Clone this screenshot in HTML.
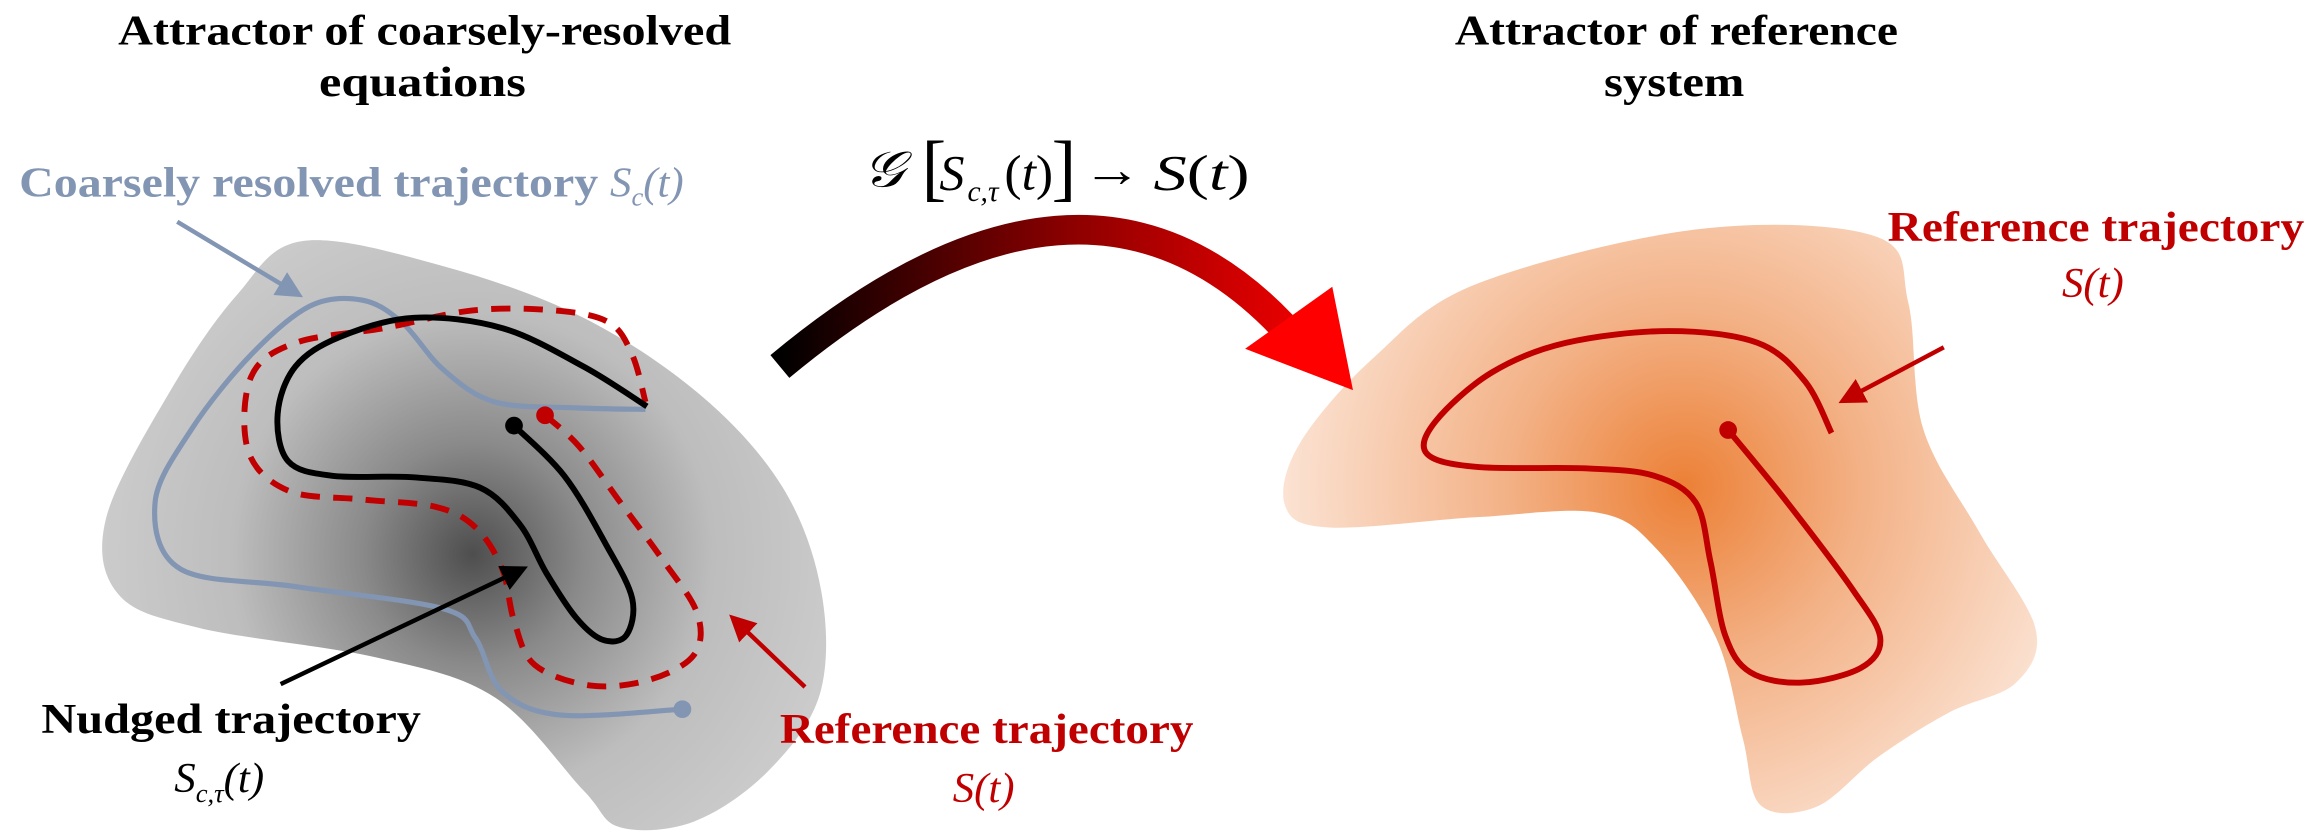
<!DOCTYPE html>
<html><head><meta charset="utf-8"><style>
html,body{margin:0;padding:0;background:#fff;}
svg{display:block;}
.t{font-family:"Liberation Serif",serif;font-weight:bold;}
.m{font-family:"Liberation Serif",serif;font-style:italic;}
</style></head><body>
<svg id="s" width="2316" height="832" viewBox="0 0 1568 563" xmlns="http://www.w3.org/2000/svg">
<defs>
<radialGradient id="gg" cx="320" cy="375" r="250" gradientUnits="userSpaceOnUse">
<stop offset="0" stop-color="#4e4e4e"/><stop offset="0.3" stop-color="#8a8a8a"/><stop offset="0.65" stop-color="#bdbdbd"/><stop offset="1" stop-color="#cbcbcb"/></radialGradient>
<radialGradient id="og" cx="1140" cy="330" r="270" gradientUnits="userSpaceOnUse">
<stop offset="0" stop-color="#ec8036"/><stop offset="0.45" stop-color="#f3b287"/><stop offset="1" stop-color="#fbe2d2"/></radialGradient>
<linearGradient id="ag" x1="528" y1="0" x2="915" y2="0" gradientUnits="userSpaceOnUse">
<stop offset="0" stop-color="#000"/><stop offset="0.5" stop-color="#8a0000"/><stop offset="1" stop-color="#ff0000"/></linearGradient>
<marker id="mb" markerWidth="6" markerHeight="6" refX="4" refY="3" orient="auto"><path d="M0,0 L6,3 L0,6 Z" fill="#8295b3"/></marker>
<marker id="mk" markerWidth="6" markerHeight="6" refX="4" refY="3" orient="auto"><path d="M0,0 L6,3 L0,6 Z" fill="#000"/></marker>
<marker id="mr" markerWidth="6" markerHeight="6" refX="4" refY="3" orient="auto"><path d="M0,0 L6,3 L0,6 Z" fill="#c00000"/></marker>
</defs>

<text class="t" x="80" y="30" font-size="29" textLength="415" lengthAdjust="spacingAndGlyphs">Attractor of coarsely-resolved</text>
<text class="t" x="216" y="65" font-size="29" textLength="140" lengthAdjust="spacingAndGlyphs">equations</text>
<text class="t" x="985" y="30" font-size="29" textLength="300" lengthAdjust="spacingAndGlyphs">Attractor of reference</text>
<text class="t" x="1086" y="65" font-size="29" textLength="95" lengthAdjust="spacingAndGlyphs">system</text>

<path id="grayblob" fill="url(#gg)"/>
<path id="orangeblob" fill="url(#og)"/>

<path id="blue" fill="none" stroke="#8295b3" stroke-width="3.5"/>
<circle cx="462" cy="480" r="6" fill="#8295b3"/>
<path id="reddash" fill="none" stroke="#c00000" stroke-width="4" stroke-dasharray="13,9"/>
<path id="black" fill="none" stroke="#000" stroke-width="4"/>
<circle cx="348" cy="288" r="6" fill="#000"/>
<circle cx="369" cy="281" r="6" fill="#c00000"/>

<line x1="120" y1="150" x2="200" y2="198" stroke="#8295b3" stroke-width="3" marker-end="url(#mb)"/>
<line x1="190" y1="463" x2="352" y2="386" stroke="#000" stroke-width="3" marker-end="url(#mk)"/>
<line x1="545" y1="465" x2="498" y2="420" stroke="#c00000" stroke-width="3" marker-end="url(#mr)"/>

<g fill="#8295b3">
<text class="t" x="13" y="133" font-size="29" textLength="392" lengthAdjust="spacingAndGlyphs">Coarsely resolved trajectory</text>
<text class="m" x="413" y="133" font-size="29">S<tspan font-size="18" dy="6">c</tspan><tspan dy="-6">(t)</tspan></text>
</g>
<text class="t" x="28" y="496" font-size="29" textLength="257" lengthAdjust="spacingAndGlyphs">Nudged trajectory</text>
<text class="m" x="118" y="536" font-size="29">S<tspan font-size="18" dy="7">c,τ</tspan><tspan dy="-7">(t)</tspan></text>
<text class="t" x="528" y="503" font-size="29" fill="#c00000" textLength="280" lengthAdjust="spacingAndGlyphs">Reference trajectory</text>
<text class="m" x="645" y="543" font-size="29" fill="#c00000">S(t)</text>

<g>
<text class="m" x="584" y="126" font-size="34" textLength="28" lengthAdjust="spacingAndGlyphs">𝒢</text>
<text x="624" y="130" font-family="Liberation Serif,serif" font-size="50">[</text>
<text class="m" x="636" y="128" font-size="34">S</text>
<text class="m" x="655" y="136" font-size="20">c,τ</text>
<text x="680" y="128" font-family="Liberation Serif,serif" font-size="34" textLength="33" lengthAdjust="spacingAndGlyphs">(<tspan font-style="italic">t</tspan>)</text>
<text x="712" y="130" font-family="Liberation Serif,serif" font-size="50">]</text>
<text x="733" y="126" font-family="Liberation Serif,serif" font-size="34" textLength="40" lengthAdjust="spacingAndGlyphs">→</text>
<text x="781" y="128" font-family="Liberation Serif,serif" font-size="34" textLength="65" lengthAdjust="spacingAndGlyphs"><tspan font-style="italic">S</tspan>(<tspan font-style="italic">t</tspan>)</text>
</g>

<path d="M528,248 Q732,78 868,220" fill="none" stroke="url(#ag)" stroke-width="20"/>
<path d="M843,236 L902,194 L916,264 Z" fill="#ff0000"/>

<path id="redR" fill="none" stroke="#c00000" stroke-width="4"/>
<circle cx="1170" cy="291" r="6" fill="#c00000"/>
<line x1="1316" y1="235" x2="1250" y2="270" stroke="#c00000" stroke-width="3" marker-end="url(#mr)"/>
<text class="t" x="1278" y="163" font-size="29" fill="#c00000" textLength="282" lengthAdjust="spacingAndGlyphs">Reference trajectory</text>
<text class="m" x="1396" y="201" font-size="29" fill="#c00000">S(t)</text>
</svg>
<script>
function cr(p,closed){
  var n=p.length,d="M"+p[0][0]+","+p[0][1];
  var m=closed?n:n-1;
  for(var i=0;i<m;i++){
    var p0=p[(i-1+n)%n],p1=p[i],p2=p[(i+1)%n],p3=p[(i+2)%n];
    if(!closed){if(i==0)p0=p1;if(i+2>=n)p3=p2;}
    d+=" C"+(p1[0]+(p2[0]-p0[0])/6)+","+(p1[1]+(p2[1]-p0[1])/6)+" "+(p2[0]-(p3[0]-p1[0])/6)+","+(p2[1]-(p3[1]-p1[1])/6)+" "+p2[0]+","+p2[1];
  }
  return closed?d+"Z":d;
}
var grayPts=[[205,163],[300,180],[395,215],[475,268],[530,330],[556,400],[555,470],[520,522],[470,556],[420,560],[395,535],[335,472],[255,445],[135,425],[80,402],[72,350],[115,265],[160,200]];
var orangePts=[[1000,192],[1150,155],[1270,160],[1292,205],[1302,290],[1340,360],[1378,425],[1365,462],[1320,482],[1272,512],[1230,546],[1192,545],[1180,500],[1162,432],[1122,372],[1082,347],[1000,350],[900,357],[870,342],[880,300],[930,242]];
var bluePts=[[462,480],[380,484],[340,468],[322,432],[300,412],[200,397],[122,385],[105,340],[130,290],[170,240],[210,207],[245,203],[272,218],[300,250],[335,272],[390,276],[437,277]];
var blackPts=[[348,288],[382,322],[410,368],[428,405],[424,430],[408,433],[390,418],[370,388],[352,355],[325,330],[280,323],[225,322],[195,312],[188,280],[200,248],[230,228],[280,215],[340,222],[395,248],[438,275]];
var redPts=[[369,281],[392,302],[420,340],[448,378],[472,415],[470,443],[440,460],[400,464],[362,450],[348,420],[340,385],[322,357],[295,343],[245,338],[195,332],[168,305],[170,255],[200,232],[260,222],[320,210],[375,210],[412,218],[428,240],[437,272]];
var redRPts=[[1170,291],[1210,340],[1255,400],[1273,432],[1260,452],[1220,462],[1185,455],[1168,430],[1158,380],[1148,340],[1120,322],[1075,317],[1000,316],[966,307],[972,285],[1010,252],[1060,232],[1130,224],[1190,232],[1222,258],[1240,293]];
document.getElementById('grayblob').setAttribute('d',cr(grayPts,true));
document.getElementById('orangeblob').setAttribute('d',cr(orangePts,true));
document.getElementById('blue').setAttribute('d',cr(bluePts,false));
document.getElementById('black').setAttribute('d',cr(blackPts,false));
document.getElementById('reddash').setAttribute('d',cr(redPts,false));
document.getElementById('redR').setAttribute('d',cr(redRPts,false));
</script>
</body></html>
